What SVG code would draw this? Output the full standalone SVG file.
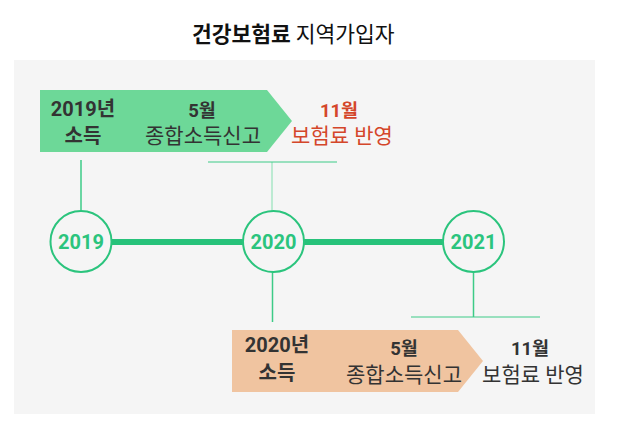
<svg xmlns="http://www.w3.org/2000/svg" width="620" height="423" viewBox="0 0 620 423">
<style>
.t{font-family:Roboto,"Noto Sans CJK KR",sans-serif;text-anchor:middle}
.b{font-weight:bold}
.dk{fill:#333333}
.rd{fill:#d4462a}
.yr{font-family:Roboto,"Noto Sans CJK KR",sans-serif;font-weight:bold;font-size:20px;fill:#2bc47d;text-anchor:middle}
.c{fill:#f5f5f5;stroke:#2bc47d;stroke-width:2}
.ln{stroke:#3ccb87;stroke-width:1.5;fill:none}
</style>
<rect x="0" y="0" width="620" height="423" fill="#ffffff"/>
<rect x="14" y="60" width="581" height="354" fill="#f5f5f5"/>
<g id="title">
<text x="192" y="42" font-family="'Noto Sans CJK KR',sans-serif" font-size="21.5" fill="#111"><tspan font-weight="bold">건강보험료</tspan> 지역가입자</text>
</g>
<g id="connectors">
<line x1="110" y1="242" x2="446" y2="242" stroke="#27c27a" stroke-width="6"/>
<line class="ln" x1="81" y1="160" x2="81" y2="211"/>
<line x1="272" y1="162" x2="272" y2="211" stroke="#a9e6c6" stroke-width="1.5"/>
<line x1="208" y1="162" x2="337" y2="162" stroke="#3ccb87" stroke-width="1"/>
<line class="ln" x1="272.5" y1="272" x2="272.5" y2="322"/>
<line class="ln" x1="473.5" y1="272" x2="473.5" y2="317"/>
<line x1="411" y1="317" x2="540" y2="317" stroke="#3ccb87" stroke-width="1"/>
</g>
<g id="arrow2019">
<polygon points="40,90 267,90 292,121 267,152 40,152" fill="#6dd898"/>
<text class="t b dk" x="83" y="116" font-size="20">2019년</text>
<text class="t b dk" x="83" y="143" font-size="20">소득</text>
<text class="t b dk" x="202" y="117" font-size="18.5">5월</text>
<text class="t dk" x="203" y="143" font-size="21">종합소득신고</text>
</g>
<g id="reflect2020">
<text class="t b rd" x="339" y="117" font-size="18.5">11월</text>
<text class="t rd" x="342" y="143" font-size="21">보험료 반영</text>
</g>
<g id="arrow2020">
<polygon points="232,330 458,330 483,361 458,392 232,392" fill="#f0c4a0"/>
<text class="t b dk" x="277" y="352" font-size="20">2020년</text>
<text class="t b dk" x="277" y="380" font-size="20">소득</text>
<text class="t b dk" x="404" y="355" font-size="18.5">5월</text>
<text class="t dk" x="404" y="382" font-size="21">종합소득신고</text>
</g>
<g id="reflect2021">
<text class="t b dk" x="530" y="355" font-size="18.5">11월</text>
<text class="t dk" x="533" y="382" font-size="21">보험료 반영</text>
</g>
<g id="node2019">
<circle class="c" cx="81" cy="241.5" r="30.5"/>
<text class="yr" x="81" y="248.5">2019</text>
</g>
<g id="node2020">
<circle class="c" cx="273.5" cy="241.5" r="30.5"/>
<text class="yr" x="273.5" y="248.5">2020</text>
</g>
<g id="node2021">
<circle class="c" cx="473.5" cy="241.5" r="30.5"/>
<text class="yr" x="473.5" y="248.5">2021</text>
</g>
</svg>
